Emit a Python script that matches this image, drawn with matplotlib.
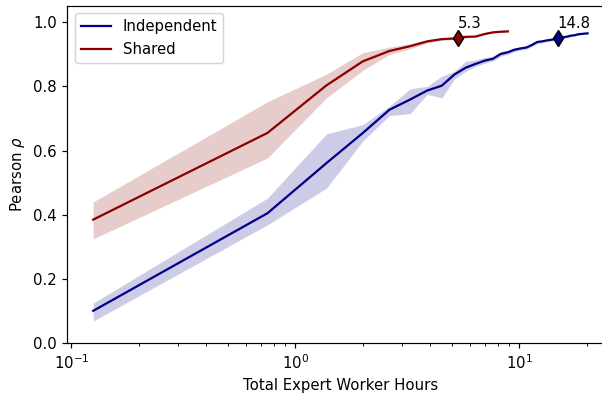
import numpy as np
import matplotlib
matplotlib.use("Agg")
import matplotlib.pyplot as plt

# hours spent (steps of 0.625 h)
hours_ind = np.arange(33) * 0.625 + 0.125
hours_sh = np.arange(15) * 0.625 + 0.125

ind_mean = [0.101, 0.405, 0.561, 0.655, 0.727, 0.759, 0.787, 0.802, 0.837, 0.858,
            0.870, 0.880, 0.886, 0.901, 0.906, 0.914, 0.918, 0.921, 0.929, 0.938,
            0.940, 0.943, 0.945, 0.948, 0.951, 0.953, 0.955, 0.958, 0.959, 0.962,
            0.963, 0.964, 0.965]
ind_lo = [0.069, 0.369, 0.483, 0.630, 0.709, 0.715, 0.775, 0.764, 0.823, 0.847,
          0.862, 0.872, 0.879, 0.894, 0.900, 0.908, 0.913, 0.916, 0.924, 0.933,
          0.936, 0.939, 0.941, 0.944, 0.948, 0.950, 0.952, 0.955, 0.957, 0.960,
          0.961, 0.962, 0.963]
ind_hi = [0.125, 0.452, 0.652, 0.681, 0.738, 0.792, 0.800, 0.832, 0.847, 0.878,
          0.882, 0.890, 0.894, 0.908, 0.913, 0.920, 0.923, 0.926, 0.934, 0.942,
          0.944, 0.947, 0.949, 0.951, 0.954, 0.956, 0.958, 0.961, 0.962, 0.964,
          0.965, 0.966, 0.967]

sh_mean = [0.385, 0.655, 0.803, 0.878, 0.910, 0.925, 0.940, 0.947, 0.949, 0.954,
           0.955, 0.963, 0.968, 0.970, 0.971]
sh_lo = [0.325, 0.577, 0.764, 0.850, 0.899, 0.917, 0.935, 0.943, 0.946, 0.951,
         0.953, 0.961, 0.966, 0.968, 0.969]
sh_hi = [0.440, 0.752, 0.838, 0.905, 0.922, 0.933, 0.945, 0.951, 0.952, 0.957,
         0.957, 0.965, 0.970, 0.972, 0.973]

# hours needed to reach rho = 0.95
thresh = 0.95
hit_sh = 5.3
hit_ind = 14.8

DPI = 107.5
fig = plt.figure(figsize=(602 / DPI, 394 / DPI), dpi=DPI)
# the original figure is cut off on the right, so the axes run past the edge
ax = fig.add_axes([0.1118, 0.1287, 0.9065, 0.856])

blue = "darkblue"
red = "darkred"

ax.fill_between(hours_ind, ind_lo, ind_hi, color=blue, alpha=0.2, lw=0)
ax.fill_between(hours_sh, sh_lo, sh_hi, color=red, alpha=0.2, lw=0)
ax.plot(hours_ind, ind_mean, color=blue, lw=1.5, label="Independent")
ax.plot(hours_sh, sh_mean, color=red, lw=1.5, label="Shared")

for h, c in [(hit_sh, red), (hit_ind, blue)]:
    ax.plot([h], [thresh], marker="d", ms=7.5, color=c, mec="black", mew=1)
    ax.annotate(str(h), (h, thresh), xytext=(0, 5), textcoords="offset points",
                ha="left", va="bottom", fontsize=10)

ax.set_xscale("log")
ax.set_xlim(0.0958, 26.15)
ax.set_ylim(0, 1.05)
ax.set_yticks([0.0, 0.2, 0.4, 0.6, 0.8, 1.0])
ax.spines["right"].set_visible(False)
ax.set_xlabel("Total Expert Worker Hours")
ax.set_ylabel(r"Pearson $\rho$")
ax.legend(loc="upper left")

fig.savefig("out.png", dpi=DPI)
